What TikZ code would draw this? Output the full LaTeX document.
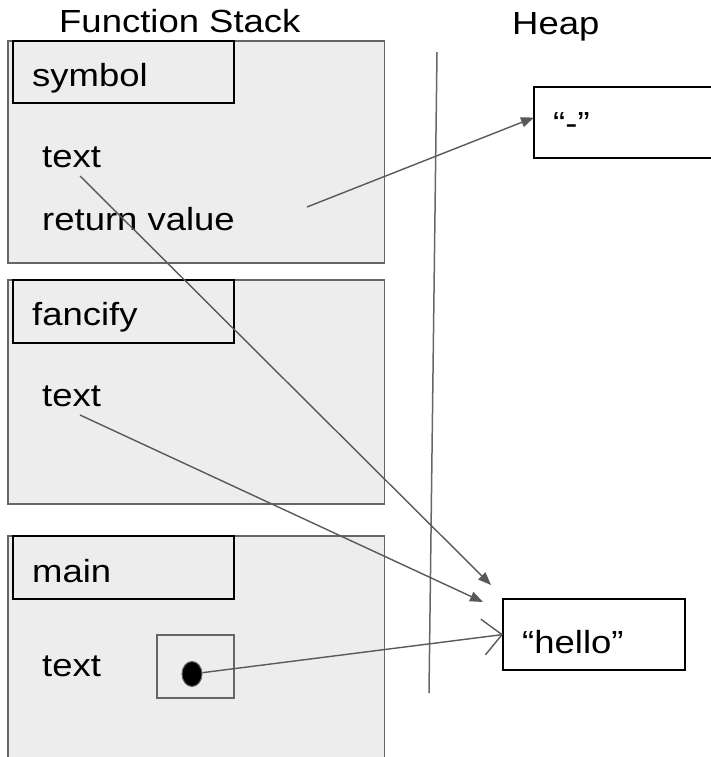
\documentclass[tikz,border=0pt]{standalone}
\usepackage{fontspec}
\setmainfont{Liberation Sans}[FakeStretch=1.14]
\usepackage{tikz}
\usetikzlibrary{arrows.meta,shapes.geometric}

\begin{document}
\begin{tikzpicture}[x=1pt,y=-1pt,
  lbl/.style={anchor=base west,inner sep=0pt,font=\fontsize{32}{38}\selectfont},
  frame/.style={draw=black!60,line width=1.5pt,fill=black!7,anchor=north west,inner sep=0pt,outer sep=0pt,minimum width=376.7pt},
  namebox/.style={draw=black,line width=1.5pt,anchor=north west,inner sep=0pt,outer sep=0pt,minimum width=221pt},
  heapbox/.style={draw=black,line width=2pt,fill=white,anchor=north west,inner sep=0pt,outer sep=0pt,minimum height=71pt},
  ptr/.style={-{Triangle[length=13pt,width=10pt]},draw=black!65,line width=1.4pt}]
\useasboundingbox (0,0) rectangle (711,757);
% titles
\node[lbl] (stacktitle) at (59,33) {Function Stack};
\node[lbl] (heaptitle) at (512,35) {Heap};
% stack frames
\node[frame,minimum height=222pt] (symfr) at (8,41) {};
\node[frame,minimum height=224pt] (fanfr) at (8,280) {};
\node[frame,draw=none,minimum height=230pt] (mainfr) at (8,536) {};
\draw[black!60,line width=1.5pt] (mainfr.south west)--(mainfr.north west)--(mainfr.north east)--(mainfr.south east);
\node[namebox,minimum height=62pt] (symbox) at (13,41) {};
\node[namebox,minimum height=63pt] (fanbox) at (13,280) {};
\node[namebox,minimum height=63pt] (mainbox) at (13,536) {};
\node[lbl] (symname) at (32,87) {symbol};
\node[lbl] (fanname) at (32,325) {fancify};
\node[lbl] (mainname) at (32,582) {main};
\node[lbl] (symtext) at (42,167) {text};
\node[lbl] (symret) at (42,230) {return value};
\node[lbl] (fantext) at (42,406) {text};
\node[lbl] (maintext) at (42,676) {text};
\node[draw=black!60,line width=1.2pt,anchor=north west,outer sep=0pt,minimum width=77pt,minimum height=63pt] (cell) at (157,635) {};
\node[ellipse,draw=black!60,line width=1pt,fill=black,inner sep=0pt,minimum width=20pt,minimum height=25pt] (dot) at (192,674) {};
% divider
\coordinate (divtop) at (437,52);
\coordinate (divbot) at (429,693);
\draw[black!60,line width=1.5pt] (divtop)--(divbot);
% heap objects
\node[heapbox,minimum width=186pt] (dash) at (534,87) {};
\node[lbl] (dashtxt) at (553,135) {“-”};
\node[heapbox,minimum width=182pt] (hello) at (503,599) {};
\node[lbl] (hellotxt) at (522,653) {“hello”};
% references
\coordinate (symref) at (80,176);
\coordinate (fanref) at (80,415);
\coordinate (retref) at (307,207);
\draw[ptr] (symref) -- ([xshift=-12pt,yshift=14pt]hello.north west);
\draw[ptr] (fanref) -- ([xshift=-20pt,yshift=-3pt]hello.north west);
\draw[ptr] (retref) -- ([yshift=5pt]dash.west);
\draw[ptr,-{Straight Barb[length=19pt,width=36pt]}] (dot) -- (hello.west);
\end{tikzpicture}
\end{document}
